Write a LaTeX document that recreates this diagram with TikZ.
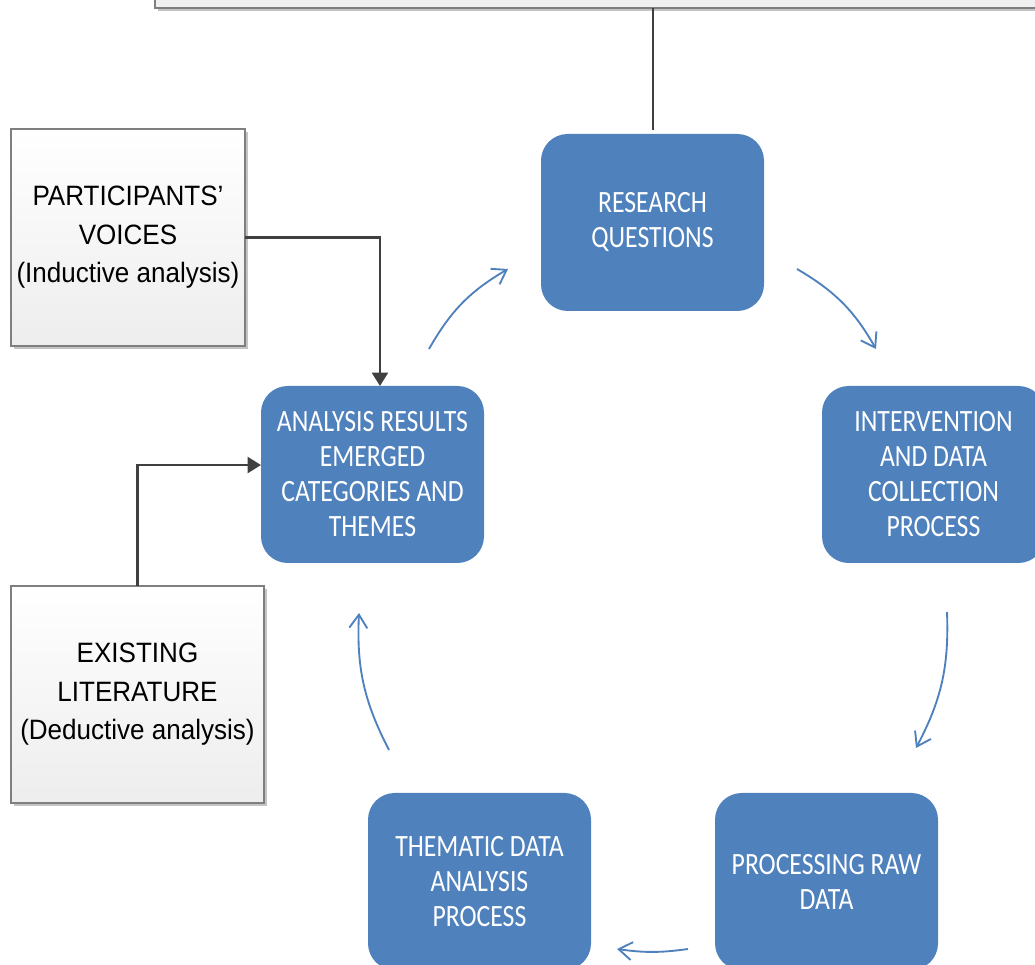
\documentclass[tikz,border=0pt]{standalone}
\usepackage{fontspec}
\setmainfont{Liberation Sans}
\newfontfamily\stagefamily[FakeStretch=0.83]{Carlito}
\newfontfamily\sourcefamily[FakeStretch=0.93,Ligatures=TeX]{Liberation Sans}
\usetikzlibrary{arrows.meta,shadows}
\definecolor{cycleblue}{HTML}{4F81BD}
\definecolor{linkgray}{HTML}{404040}
\definecolor{edgegray}{HTML}{7F7F7F}
\definecolor{shadowgray}{HTML}{C4C4C4}
\newcommand\stagetext{\stagefamily\fontsize{23.25}{26.25}\selectfont}
\newcommand\sourcetext{\sourcefamily\fontsize{21}{28.8}\selectfont}
\begin{document}
\begin{tikzpicture}[x=0.75pt,y=0.75pt,
  stage/.style={fill=cycleblue, draw=none, rounded corners=20pt,
    minimum width=167.25pt, minimum height=132.75pt, inner sep=0pt, outer sep=0pt,
    text=white, align=center, font=\stagetext},
  source/.style={draw=edgegray, line width=0.9pt, top color=white, bottom color=black!7,
    drop shadow={shadow xshift=2.2pt, shadow yshift=-2.2pt, fill=shadowgray, opacity=1},
    minimum height=162.75pt, inner sep=0pt, outer sep=0pt, align=center, font=\sourcetext},
  cycle/.style={draw=cycleblue, line width=1.4pt,
    -{Straight Barb[length=10pt,width=13.5pt,line width=1.4pt]}},
  feed/.style={draw=linkgray, line width=1.6pt, -{Triangle[length=10pt,width=12pt]}}]

\useasboundingbox (0,0) rectangle (1035,964);
\clip (0,0) rectangle (1035,964);

% frame running off the top edge
\node[draw=edgegray, line width=0.9pt, fill=black!6,
  drop shadow={shadow xshift=2.2pt, shadow yshift=-2.2pt, fill=shadowgray, opacity=1},
  minimum width=678.75pt, minimum height=33pt, inner sep=0pt, outer sep=0pt]
  (frame) at (607.5,978) {};

% cycle stages
\node[stage] (rq)  at (652.5,741.5) {RESEARCH\\QUESTIONS};
\node[stage] (idc) at (933.5,489.5) {INTERVENTION\\AND DATA\\COLLECTION\\PROCESS};
\node[stage] (raw) at (826.5,82.5)  {PROCESSING RAW\\DATA};
\node[stage] (tda) at (479.5,82.5)  {THEMATIC DATA\\ANALYSIS\\PROCESS};
\node[stage] (res) at (372.5,489.5) {ANALYSIS RESULTS\\EMERGED\\CATEGORIES AND\\THEMES};

% sources of the analysis
\node[source, minimum width=175.5pt]  (voice) at (128,726.5)
  {PARTICIPANTS’\\VOICES\\(Inductive analysis)};
\node[source, minimum width=189.75pt] (lit)   at (137.5,269.5)
  {EXISTING\\LITERATURE\\(Deductive analysis)};

% frame to research questions
\draw[draw=linkgray, line width=1.5pt] (rq.north |- frame.south) -- ([yshift=3pt]rq.north);

% feeds into the results
\draw[feed] (voice.east) -| ([xshift=5.6pt]res.north);
\draw[feed] (lit.north) |- ([yshift=7.1pt]res.west);

% cycle arrows
\coordinate (c1s) at (429,615);  \coordinate (c1e) at (508,695);
\coordinate (c2s) at (797,695);  \coordinate (c2e) at (876,615);
\coordinate (c3s) at (947,352);  \coordinate (c3e) at (916,216);
\coordinate (c4s) at (688,15);   \coordinate (c4e) at (617,15);
\coordinate (c5s) at (389,214);  \coordinate (c5e) at (359,351);
\draw[cycle] (c1s) to[bend left=15] (c1e);
\draw[cycle] (c2s) to[bend left=15] (c2e);
\draw[cycle] (c3s) to[bend left=15] (c3e);
\draw[cycle] (c4s) to[bend left=8]  (c4e);
\draw[cycle] (c5s) to[bend left=15] (c5e);
\end{tikzpicture}
\end{document}
